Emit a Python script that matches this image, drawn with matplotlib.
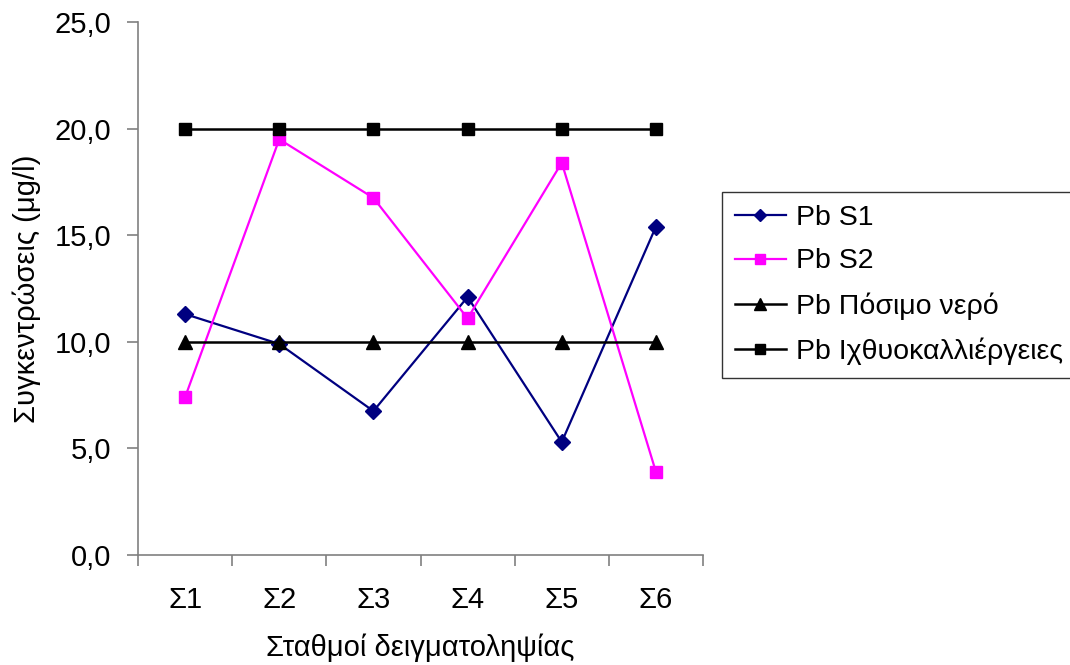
import matplotlib
matplotlib.use('Agg')
import matplotlib.pyplot as plt
import numpy as np

plt.rcParams['font.family'] = ['Liberation Sans', 'DejaVu Sans']

stations = ['Σ1', 'Σ2', 'Σ3', 'Σ4', 'Σ5', 'Σ6']
pb_s1 = [11.3, 9.9, 6.75, 12.1, 5.3, 15.4]
pb_s2 = [7.4, 19.5, 16.75, 11.1, 18.4, 3.9]
pb_drinking = [10.0, 10.0, 10.0, 10.0, 10.0, 10.0]
pb_fish = [20.0, 20.0, 20.0, 20.0, 20.0, 20.0]
yticks = [0, 5, 10, 15, 20, 25]

x = np.arange(1, len(stations) + 1)
fs = 21

fig = plt.figure(figsize=(10.7, 6.65), dpi=100)
ax = fig.add_axes([138/1070, 110/665, 565/1070, 533/665])

ax.plot(x, pb_s1, color='#000080', marker='D', markersize=8, linewidth=1.6, label='Pb S1')
ax.plot(x, pb_s2, color='#FF00FF', marker='s', markersize=8.5, linewidth=1.6, label='Pb S2')
ax.plot(x, pb_drinking, color='black', marker='^', markersize=10, linewidth=1.8, label='Pb Πόσιμο νερό')
ax.plot(x, pb_fish, color='black', marker='s', markersize=8.5, linewidth=1.8, label='Pb Ιχθυοκαλλιέργειες')

ax.set_xlim(0.5, len(stations) + 0.5)
ax.set_ylim(0, 25)
ax.set_yticks(yticks)
ax.set_yticklabels([f'{v:.1f}'.replace('.', ',') for v in yticks])
ax.set_xticks(x)
ax.set_xticklabels(stations)
ax.set_xticks(np.arange(0.5, len(stations) + 1, 1), minor=True)
ax.tick_params(axis='x', which='major', length=0, labelsize=fs, pad=22)
ax.tick_params(axis='x', which='minor', length=8, color='#808080', width=1.2)
ax.tick_params(axis='y', length=8, color='#808080', width=1.2, labelsize=fs, pad=11)

for s in ['top', 'right']:
    ax.spines[s].set_visible(False)
for s in ['left', 'bottom']:
    ax.spines[s].set_color('#808080')
    ax.spines[s].set_linewidth(1.2)

ax.set_xlabel('Σταθμοί δειγματοληψίας', fontsize=fs, labelpad=14)
ax.set_ylabel('Συγκεντρώσεις (μg/l)', fontsize=fs, labelpad=10)

leg = fig.legend(loc='upper left', bbox_to_anchor=(722/1070, 1 - 192/665),
                 fontsize=20.5, frameon=True, fancybox=False, edgecolor='black',
                 borderpad=0.45, labelspacing=0.62, handlelength=1.8,
                 handletextpad=0.35, borderaxespad=0, markerscale=0.8)
leg.get_frame().set_linewidth(1.0)

plt.savefig('out.png', dpi=100)
